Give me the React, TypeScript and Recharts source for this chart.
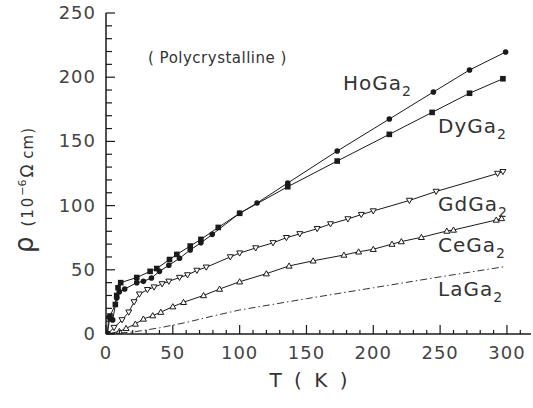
import React from 'react';
import { LineChart, Line, XAxis, YAxis } from 'recharts';

// readings in T (K) and rho (10^-6 ohm cm)
const hoT = [1, 2, 5, 8, 10, 14, 23, 28, 34, 40, 47, 55, 63, 71, 79.5, 100, 113, 136, 173, 212, 245, 272, 299];
const hoRho = [0, 13, 11, 28, 33, 35, 40, 41, 43.6, 48.8, 53.5, 59, 65.4, 71, 77.6, 94, 102, 117.6, 142.5, 167.4, 188.5, 205.6, 219.6];

const dyT = [1, 3, 7, 8, 9, 11, 23, 33, 38, 47.5, 53, 63, 71, 84, 100, 136, 173, 212, 244, 272, 297];
const dyRho = [0, 14, 23, 30, 36, 40, 44, 48.8, 51, 58, 62, 68.5, 73.7, 83, 94, 114.7, 134.7, 155.5, 172.6, 187.5, 198.8];

const gdT = [1, 6, 12, 17, 21, 25, 31, 36, 42, 47, 55, 61, 68, 75, 93, 100, 112, 125, 135, 145, 158, 168, 181, 191, 200, 227, 247, 293, 297];
const gdRho = [0, 5, 11, 17, 25, 31, 34.5, 36.5, 39, 41, 44, 46, 49.5, 52, 60, 63, 67, 71, 75, 78, 82, 85.7, 89.6, 93, 95.8, 104, 111, 125, 126.4];

const ceT = [1, 10, 15, 22, 28, 35, 41, 50, 58, 73, 85, 100, 120, 137, 155, 178, 189, 200, 214, 221, 236, 255, 260, 292, 296];
const ceRho = [0, 2, 4.4, 7.8, 11.7, 14.3, 17, 21.3, 24.7, 30, 35, 40.7, 47, 53, 57, 61.5, 64, 66, 70, 72, 75.3, 80.2, 81, 88.8, 90];

const laT = [0, 20, 40, 60, 80, 100, 150, 200, 250, 298];
const laRho = [0, 1.5, 4.8, 9, 14, 18.7, 27.5, 36, 44.5, 52.4];

const xTicks = [0, 10, 20, 30, 40, 50, 60, 70, 80, 90, 100, 110, 120, 130, 140, 150, 160, 170, 180, 190, 200, 210, 220, 230, 240, 250, 260, 270, 280, 290, 300, 310];
const yTicks = [0, 10, 20, 30, 40, 50, 60, 70, 80, 90, 100, 110, 120, 130, 140, 150, 160, 170, 180, 190, 200, 210, 220, 230, 240, 250];

const zip = (t: number[], r: number[]) => t.map((v, i) => ({ t: v, rho: r[i] }));

const hoData = zip(hoT, hoRho);
const dyData = zip(dyT, dyRho);
const gdData = zip(gdT, gdRho);
const ceData = zip(ceT, ceRho);
const laData = zip(laT, laRho);

const FONT = '"DejaVu Sans", sans-serif';
const INK = '#1a1a1a';

const BottomTick = (props: any) => {
  const { x, y, payload } = props;
  const major = payload.value % 50 === 0;
  return (
    <g>
      <line x1={x} y1={y} x2={x} y2={y - (major ? 9 : 4)} stroke={INK} strokeWidth={1.2} />
      {major && payload.value <= 300 && (
        <text x={x} y={y + 25} textAnchor="middle" fontSize={18} fill="#444" fontFamily={FONT} letterSpacing={1}>
          {payload.value}
        </text>
      )}
    </g>
  );
};

const TopTick = (props: any) => {
  const { x, y, payload } = props;
  const major = payload.value % 50 === 0;
  return <line x1={x} y1={y} x2={x} y2={y + (major ? 9 : 4)} stroke={INK} strokeWidth={1.2} />;
};

const LeftTick = (props: any) => {
  const { x, y, payload } = props;
  const major = payload.value % 50 === 0;
  return (
    <g>
      <line x1={x} y1={y} x2={x + (major ? 9 : 6)} y2={y} stroke={INK} strokeWidth={1.2} />
      {major && (
        <text x={x - 10} y={y + 6} textAnchor="end" fontSize={18} fill="#444" fontFamily={FONT} letterSpacing={1}>
          {payload.value}
        </text>
      )}
    </g>
  );
};

const RightTick = (props: any) => {
  const { x, y, payload } = props;
  const major = payload.value % 50 === 0;
  return <line x1={x} y1={y} x2={x - (major ? 9 : 6)} y2={y} stroke={INK} strokeWidth={1.2} />;
};

const FilledCircle = (p: any) => <circle key={p.index} cx={p.cx} cy={p.cy} r={2.8} fill={INK} />;
const FilledSquare = (p: any) => <rect key={p.index} x={p.cx - 2.8} y={p.cy - 2.8} width={5.6} height={5.6} fill={INK} />;
const OpenDown = (p: any) => (
  <polygon key={p.index} points={`${p.cx - 3},${p.cy - 2.2} ${p.cx + 3},${p.cy - 2.2} ${p.cx},${p.cy + 3}`} fill="#fff" stroke={INK} strokeWidth={1} />
);
const OpenUp = (p: any) => (
  <polygon key={p.index} points={`${p.cx - 3},${p.cy + 2.2} ${p.cx + 3},${p.cy + 2.2} ${p.cx},${p.cy - 3}`} fill="#fff" stroke={INK} strokeWidth={1} />
);

const Compound = ({ x, y, name }: { x: number; y: number; name: string }) => (
  <text x={x} y={y} fontSize={20} fill="#333" fontFamily={FONT} letterSpacing={1}>
    {name}
    <tspan fontSize={14} dy={6}>2</tspan>
  </text>
);

export default function App() {
  return (
    <div style={{ position: 'absolute', left: 0, top: 0, width: 533, height: 408, background: '#fff' }}>
      <LineChart width={533} height={408} margin={{ top: 13, right: 2, bottom: 0, left: 0 }}>
        <XAxis
          dataKey="t"
          type="number"
          domain={[0, 318]}
          ticks={xTicks}
          interval={0}
          allowDataOverflow
          height={74}
          tickSize={0}
          tickMargin={0}
          tick={BottomTick}
          axisLine={{ stroke: INK, strokeWidth: 1.5 }}
        />
        <XAxis
          xAxisId="top"
          orientation="top"
          type="number"
          domain={[0, 318]}
          ticks={xTicks}
          interval={0}
          allowDataOverflow
          height={0}
          tickSize={0}
          tickMargin={0}
          tick={TopTick}
          axisLine={{ stroke: INK, strokeWidth: 1.5 }}
        />
        <YAxis
          type="number"
          domain={[0, 250]}
          ticks={yTicks}
          interval={0}
          allowDataOverflow
          width={106}
          tickSize={0}
          tickMargin={0}
          tick={LeftTick}
          axisLine={{ stroke: INK, strokeWidth: 1.5 }}
        />
        <YAxis
          yAxisId="right"
          orientation="right"
          type="number"
          domain={[0, 250]}
          ticks={yTicks}
          interval={0}
          allowDataOverflow
          width={0}
          tickSize={0}
          tickMargin={0}
          tick={RightTick}
          axisLine={{ stroke: INK, strokeWidth: 1.2 }}
        />
        <Line data={laData} dataKey="rho" type="linear" stroke="#333" strokeWidth={1} strokeDasharray="7 3 1.5 3" dot={false} isAnimationActive={false} />
        <Line data={ceData} dataKey="rho" type="linear" stroke={INK} strokeWidth={1} dot={OpenUp} isAnimationActive={false} />
        <Line data={gdData} dataKey="rho" type="linear" stroke={INK} strokeWidth={1} dot={OpenDown} isAnimationActive={false} />
        <Line data={dyData} dataKey="rho" type="linear" stroke={INK} strokeWidth={1} dot={FilledSquare} isAnimationActive={false} />
        <Line data={hoData} dataKey="rho" type="linear" stroke={INK} strokeWidth={1} dot={FilledCircle} isAnimationActive={false} />
      </LineChart>
      <svg width={533} height={408} style={{ position: 'absolute', left: 0, top: 0, pointerEvents: 'none' }}>
        <text x={148} y={63} fontSize={15} fill="#333" fontFamily={FONT} letterSpacing={0.5}>
          ( Polycrystalline )
        </text>
        <Compound x={343} y={90} name="HoGa" />
        <Compound x={438} y={133} name="DyGa" />
        <Compound x={438} y={211} name="GdGa" />
        <Compound x={438} y={252} name="CeGa" />
        <Compound x={438} y={296} name="LaGa" />
        <text x={310} y={387} textAnchor="middle" fontSize={20} fill="#333" fontFamily={FONT} letterSpacing={3}>
          T ( K )
        </text>
        <text transform="rotate(-90 25 190)" x={25} y={198} textAnchor="middle" fill="#333" fontFamily={FONT}>
          <tspan fontSize={26}>ρ</tspan>
          <tspan fontSize={15} dx={10} letterSpacing={2}>(10</tspan>
          <tspan fontSize={11} dy={-7}>−6</tspan>
          <tspan fontSize={17} dy={7} dx={2}>Ω</tspan>
          <tspan fontSize={15} letterSpacing={1}> cm)</tspan>
        </text>
      </svg>
    </div>
  );
}
